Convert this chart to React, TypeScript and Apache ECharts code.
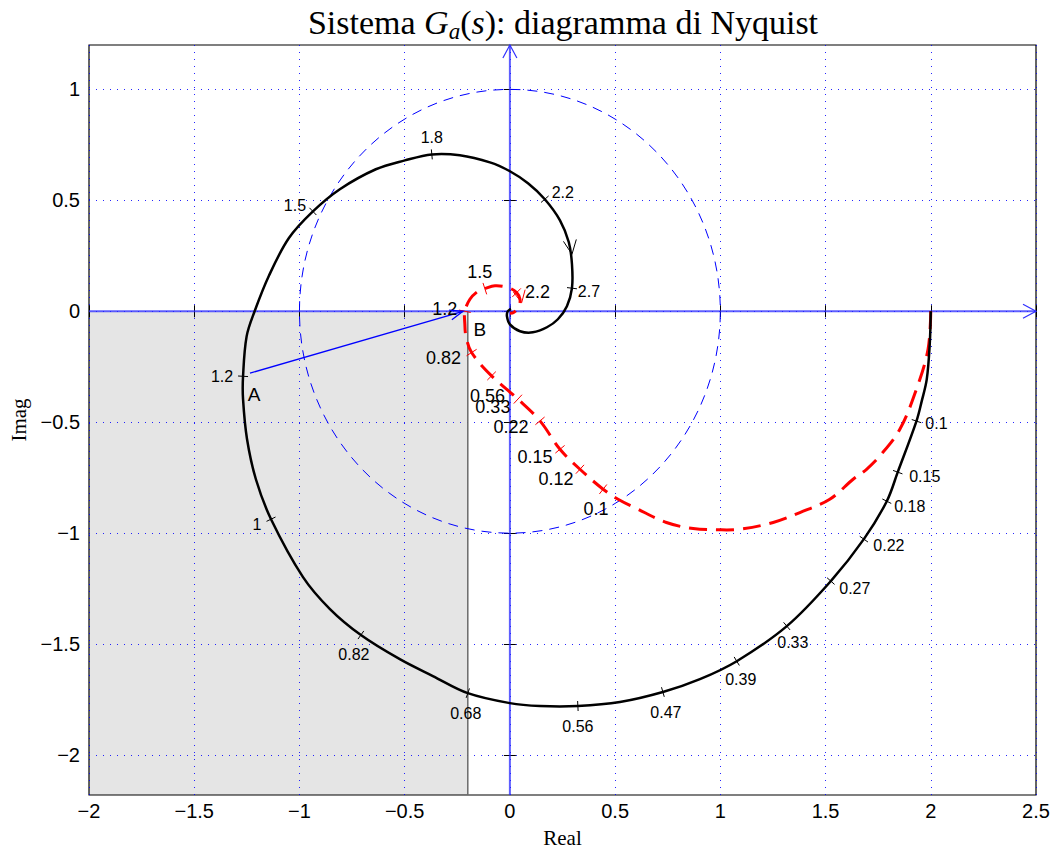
import React, { useEffect, useRef } from 'react';
import * as echarts from 'echarts';

type P = [number, number];

const X_MIN = -2;
const X_MAX = 2.5;
const Y_MIN = -2.18;
const Y_MAX = 1.2;
const yTickValues = [-2, -1.5, -1, -0.5, 0, 0.5, 1];

// Black solid Nyquist curve
const blackCurve: P[] = [
  [2.0, 0], [1.995, -0.149], [1.981, -0.306], [1.957, -0.405], [1.932, -0.495],
  [1.843, -0.725], [1.791, -0.856], [1.682, -1.027], [1.525, -1.216], [1.316, -1.419],
  [1.078, -1.577], [0.903, -1.658], [0.727, -1.716], [0.523, -1.761], [0.323, -1.779],
  [0.143, -1.779], [0, -1.766], [-0.2, -1.721], [-0.366, -1.644], [-0.523, -1.568],
  [-0.708, -1.459], [-0.855, -1.342], [-0.983, -1.198], [-1.135, -0.937], [-1.207, -0.757],
  [-1.249, -0.577], [-1.268, -0.396], [-1.268, -0.293], [-1.251, -0.113], [-1.213, 0],
  [-1.145, 0.16], [-1.05, 0.33], [-0.936, 0.45], [-0.808, 0.55], [-0.637, 0.64],
  [-0.499, 0.68], [-0.371, 0.707], [-0.238, 0.703], [-0.095, 0.671], [0, 0.631],
  [0.086, 0.577], [0.166, 0.505], [0.238, 0.41], [0.28, 0.311], [0.295, 0.212],
  [0.295, 0.104], [0.271, 0.023], [0.228, -0.036], [0.176, -0.072], [0.109, -0.095],
  [0.048, -0.09], [0, -0.059], [-0.014, -0.023], [-0.01, 0], [0.005, 0.011],
];

// Red dashed Nyquist curve
const redCurve: P[] = [
  [2.0, 0], [1.987, -0.171], [1.932, -0.351], [1.853, -0.532], [1.758, -0.652],
  [1.695, -0.712], [1.631, -0.757], [1.52, -0.847], [1.378, -0.907], [1.251, -0.952],
  [1.093, -0.982], [0.998, -0.985], [0.871, -0.979], [0.744, -0.952], [0.602, -0.889],
  [0.514, -0.847], [0.443, -0.802], [0.333, -0.712], [0.238, -0.622], [0.143, -0.494],
  [0.038, -0.396], [-0.087, -0.291], [-0.182, -0.186], [-0.209, -0.111], [-0.214, -0.059],
  [-0.214, 0], [-0.19, 0.054], [-0.152, 0.09], [-0.119, 0.102], [-0.071, 0.115],
  [-0.008, 0.107], [0.032, 0.084], [0.048, 0.054], [0.043, 0.023], [0.019, -0.005],
  [0.0, -0.009],
];

const blackFreqLabels = ['0.1', '0.15', '0.18', '0.22', '0.27', '0.33', '0.39', '0.47', '0.56', '0.68', '0.82', '1', '1.2', '1.5', '1.8', '2.2', '2.7'];
const blackFreqPoints: P[] = [
  [1.932, -0.495], [1.843, -0.725], [1.791, -0.856], [1.682, -1.027], [1.525, -1.216],
  [1.316, -1.419], [1.078, -1.577], [0.727, -1.716], [0.323, -1.779], [-0.2, -1.721],
  [-0.708, -1.459], [-1.135, -0.937], [-1.268, -0.293], [-0.936, 0.45], [-0.371, 0.707],
  [0.166, 0.505], [0.295, 0.104],
];

const redFreqLabels = ['0.1', '0.12', '0.15', '0.22', '0.33', '0.56', '0.82', '1.2', '1.5', '2.2'];
const redFreqPoints: P[] = [
  [0.443, -0.802], [0.333, -0.712], [0.238, -0.622], [0.143, -0.494], [0.038, -0.396],
  [-0.087, -0.291], [-0.182, -0.186], [-0.214, 0], [-0.119, 0.102], [0.032, 0.084],
];

const pointA: P = [-1.235, -0.279];
const pointB: P = [-0.223, 0];
const shadeEdgeX = -0.2;
const unitCircle = [[0, 0, 1]];

// label offsets in pixels (layout only)
const blackLabelOffsets: P[] = [
  [20, 2], [27, 4], [23, 5], [25, 6], [24, 7], [6, 16], [4, 18], [3, 20], [0, 20], [-2, 20],
  [-7, 19], [-14, 5], [-21, 0], [-18, -6], [0, -17], [18, -7], [17, 3],
];
const redLabelOffsets: P[] = [
  [-7, 20], [-24, 10], [-25, 8], [-29, 6], [-25, 8], [-4, 20], [-28, 5], [-20, -2], [-5, -17], [21, -1],
];

const minus = (v: number) => String(v).replace('-', '\u2212');

function textStyle(text: string, x: number, y: number, size: number) {
  return {
    text, x, y, fill: '#000',
    fontSize: size, fontFamily: 'Liberation Sans',
    font: `${size}px "Liberation Sans"`,
    align: 'center', verticalAlign: 'middle',
    textAlign: 'center', textVerticalAlign: 'middle',
  };
}

function curveSeries(curve: P[], color: string, width: number, dash: number[] | null, z: number) {
  return {
    type: 'custom',
    coordinateSystem: 'cartesian2d',
    data: curve,
    silent: true,
    z,
    renderItem: (params: any, api: any) => {
      if (params.dataIndex !== 0) return null;
      const pts = curve.map((p) => api.coord(p));
      const style: any = { stroke: color, lineWidth: width, fill: 'none', lineJoin: 'round' };
      if (dash) style.lineDash = dash;
      return { type: 'polyline', shape: { points: pts, smooth: 0.35 }, style };
    },
  };
}

function tickSeries(curve: P[], pts: P[], labels: string[], offsets: P[], color: string, size: number, half: number) {
  return {
    type: 'custom',
    coordinateSystem: 'cartesian2d',
    data: pts,
    silent: true,
    z: 6,
    renderItem: (params: any, api: any) => {
      const i = params.dataIndex;
      const p = pts[i];
      let best = 0;
      let bd = Infinity;
      curve.forEach((c, k) => {
        const d = (c[0] - p[0]) ** 2 + (c[1] - p[1]) ** 2;
        if (d < bd) { bd = d; best = k; }
      });
      const a = api.coord(curve[Math.max(best - 1, 0)]);
      const b = api.coord(curve[Math.min(best + 1, curve.length - 1)]);
      const c = api.coord(p);
      let tx = b[0] - a[0];
      let ty = b[1] - a[1];
      const L = Math.hypot(tx, ty) || 1;
      tx /= L; ty /= L;
      const nx = -ty;
      const ny = tx;
      return {
        type: 'group',
        children: [
          { type: 'line', shape: { x1: c[0] - nx * half, y1: c[1] - ny * half, x2: c[0] + nx * half, y2: c[1] + ny * half }, style: { stroke: color, lineWidth: 1 } },
          { type: 'text', style: textStyle(labels[i], c[0] + offsets[i][0], c[1] + offsets[i][1], size) },
        ],
      };
    },
  };
}

function arrowSeries(arrows: number[][], color: string, len: number, hw: number, width: number) {
  return {
    type: 'custom',
    coordinateSystem: 'cartesian2d',
    data: arrows,
    silent: true,
    z: 7,
    renderItem: (params: any, api: any) => {
      const d = arrows[params.dataIndex];
      const t = api.coord([d[0], d[1]]);
      const h = api.coord([d[2], d[3]]);
      let dx = h[0] - t[0];
      let dy = h[1] - t[1];
      const L = Math.hypot(dx, dy) || 1;
      dx /= L; dy /= L;
      const nx = -dy;
      const ny = dx;
      return {
        type: 'polyline',
        shape: {
          points: [
            [h[0] - dx * len + nx * hw, h[1] - dy * len + ny * hw],
            [h[0], h[1]],
            [h[0] - dx * len - nx * hw, h[1] - dy * len - ny * hw],
          ],
        },
        style: { stroke: color, lineWidth: width, fill: 'none' },
      };
    },
  };
}

export default function App() {
  const ref = useRef<HTMLDivElement>(null);
  useEffect(() => {
    if (!ref.current) return;
    const chart = echarts.init(ref.current, null, { renderer: 'svg' });
    const axisBlue = 'rgba(40,40,255,0.75)';
    const gridLine = { show: true, lineStyle: { color: 'rgba(0,0,255,0.85)', type: [1, 6], width: 1 } };
    const option: any = {
      animation: false,
      backgroundColor: '#fff',
      grid: {
        left: 89, right: 19, top: 45, bottom: 58, containLabel: false, outerBoundsMode: 'none',
        show: true, borderColor: '#000', borderWidth: 1.2, backgroundColor: 'transparent',
      },
      graphic: [
        {
          type: 'text', x: 563, y: 22, z: 10,
          style: {
            text: '{n|Sistema }{i|G}{s|a}{n|(}{i|s}{n|): diagramma di Nyquist}',
            align: 'center', verticalAlign: 'middle', textAlign: 'center', textVerticalAlign: 'middle',
            rich: {
              n: { fontFamily: 'Liberation Serif', fontSize: 34, lineHeight: 42, fill: '#000', color: '#000' },
              i: { fontFamily: 'Liberation Serif', fontSize: 34, lineHeight: 42, fontStyle: 'italic', fill: '#000', color: '#000' },
              s: { fontFamily: 'Liberation Serif', fontSize: 23, lineHeight: 23, fontStyle: 'italic', verticalAlign: 'bottom', fill: '#000', color: '#000' },
            },
          },
        },
      ],
      xAxis: [
        {
          type: 'value', min: X_MIN, max: X_MAX, interval: 0.5,
          name: 'Real', nameLocation: 'middle', nameGap: 32,
          nameTextStyle: { fontFamily: 'Liberation Serif', fontSize: 21, color: '#000' },
          axisLine: { show: false },
          axisTick: { show: true, inside: true, length: 6, lineStyle: { color: '#000' } },
          axisLabel: { color: '#000', fontSize: 20, fontFamily: 'Liberation Sans', margin: 6, formatter: (v: number) => minus(v), showMinLabel: true, showMaxLabel: true },
          splitLine: gridLine,
        },
        {
          type: 'value', min: X_MIN, max: X_MAX, interval: 0.5, position: 'top',
          axisLine: { show: false }, axisLabel: { show: false }, splitLine: { show: false },
          axisTick: { show: true, inside: true, length: 6, lineStyle: { color: '#000' } },
        },
      ],
      yAxis: [
        {
          type: 'value', min: Y_MIN, max: Y_MAX,
          name: 'Imag', nameLocation: 'middle', nameGap: 60, nameRotate: 90,
          nameTextStyle: { fontFamily: 'Liberation Serif', fontSize: 21, color: '#000' },
          axisLine: { show: false },
          axisTick: { show: true, inside: true, length: 6, customValues: yTickValues, lineStyle: { color: '#000' } },
          axisLabel: { color: '#000', fontSize: 20, fontFamily: 'Liberation Sans', margin: 9, customValues: yTickValues, formatter: (v: number) => minus(v) },
          splitLine: gridLine,
        },
        {
          type: 'value', min: Y_MIN, max: Y_MAX, position: 'right',
          axisLine: { show: false }, axisLabel: { show: false }, splitLine: { show: false },
          axisTick: { show: true, inside: true, length: 6, customValues: yTickValues, lineStyle: { color: '#000' } },
        },
      ],
      series: [
        {
          type: 'custom', coordinateSystem: 'cartesian2d', silent: true, z: -1,
          data: [[X_MIN, 0, shadeEdgeX, Y_MIN]],
          renderItem: (params: any, api: any) => {
            const p1 = api.coord([X_MIN, 0]);
            const p2 = api.coord([shadeEdgeX, Y_MIN]);
            return { type: 'rect', shape: { x: p1[0], y: p1[1], width: p2[0] - p1[0], height: p2[1] - p1[1] }, style: { fill: '#e5e5e5' } };
          },
        },
        {
          type: 'line', data: [[shadeEdgeX, 0], [shadeEdgeX, Y_MIN]], symbol: 'none', silent: true, z: 2,
          lineStyle: { color: '#6b6b6b', width: 1.5 },
        },
        {
          type: 'line', data: [[X_MIN, 0], [X_MAX, 0]], symbol: 'none', silent: true, z: 3,
          lineStyle: { color: axisBlue, width: 2 },
        },
        {
          type: 'line', data: [[0, Y_MIN], [0, Y_MAX]], symbol: 'none', silent: true, z: 3,
          lineStyle: { color: axisBlue, width: 2 },
        },
        {
          type: 'custom', coordinateSystem: 'cartesian2d', silent: true, z: 3,
          data: unitCircle,
          renderItem: (params: any, api: any) => {
            const d = unitCircle[params.dataIndex];
            const c = api.coord([d[0], d[1]]);
            const rx = api.coord([d[0] + d[2], d[1]]);
            const ry = api.coord([d[0], d[1] + d[2]]);
            return { type: 'ellipse', shape: { cx: c[0], cy: c[1], rx: rx[0] - c[0], ry: c[1] - ry[1] }, style: { fill: 'none', stroke: '#0000ff', lineWidth: 1, lineDash: [10, 7] } };
          },
        },
        {
          type: 'line', data: [pointA, pointB], symbol: 'none', silent: true, z: 4,
          lineStyle: { color: '#0000ff', width: 1.3 },
        },
        curveSeries(redCurve, '#ff0000', 3, [18, 9], 5),
        curveSeries(blackCurve, '#000000', 2.5, null, 5),
        tickSeries(blackCurve, blackFreqPoints, blackFreqLabels, blackLabelOffsets, '#000', 16, 5),
        tickSeries(redCurve, redFreqPoints, redFreqLabels, redLabelOffsets, '#ff0000', 18, 6),
        arrowSeries([[X_MAX - 0.2, 0, X_MAX, 0], [0, Y_MAX - 0.2, 0, Y_MAX]], '#3030ff', 13, 7, 1.2),
        arrowSeries([[pointA[0], pointA[1], pointB[0], pointB[1]]], '#0000ff', 13, 5, 1.3),
        arrowSeries([[0.285, 0.32, 0.295, 0.257]], '#000', 14, 6.5, 1),
        arrowSeries([[0.043, 0.099, 0.056, 0.039]], '#ff0000', 12, 6, 1),
        {
          type: 'custom', coordinateSystem: 'cartesian2d', silent: true, z: 8,
          data: [pointA, pointB],
          renderItem: (params: any, api: any) => {
            const i = params.dataIndex;
            const p = api.coord(i === 0 ? pointA : pointB);
            const off = i === 0 ? [4, 21] : [17, 18];
            return { type: 'text', style: textStyle(i === 0 ? 'A' : 'B', p[0] + off[0], p[1] + off[1], 19) };
          },
        },
      ],
    };
    chart.setOption(option);
    return () => chart.dispose();
  }, []);
  return (
    <div
      ref={ref}
      style={{ position: 'fixed', left: 0, top: 0, width: 1055, height: 853, background: '#fff' }}
    />
  );
}
